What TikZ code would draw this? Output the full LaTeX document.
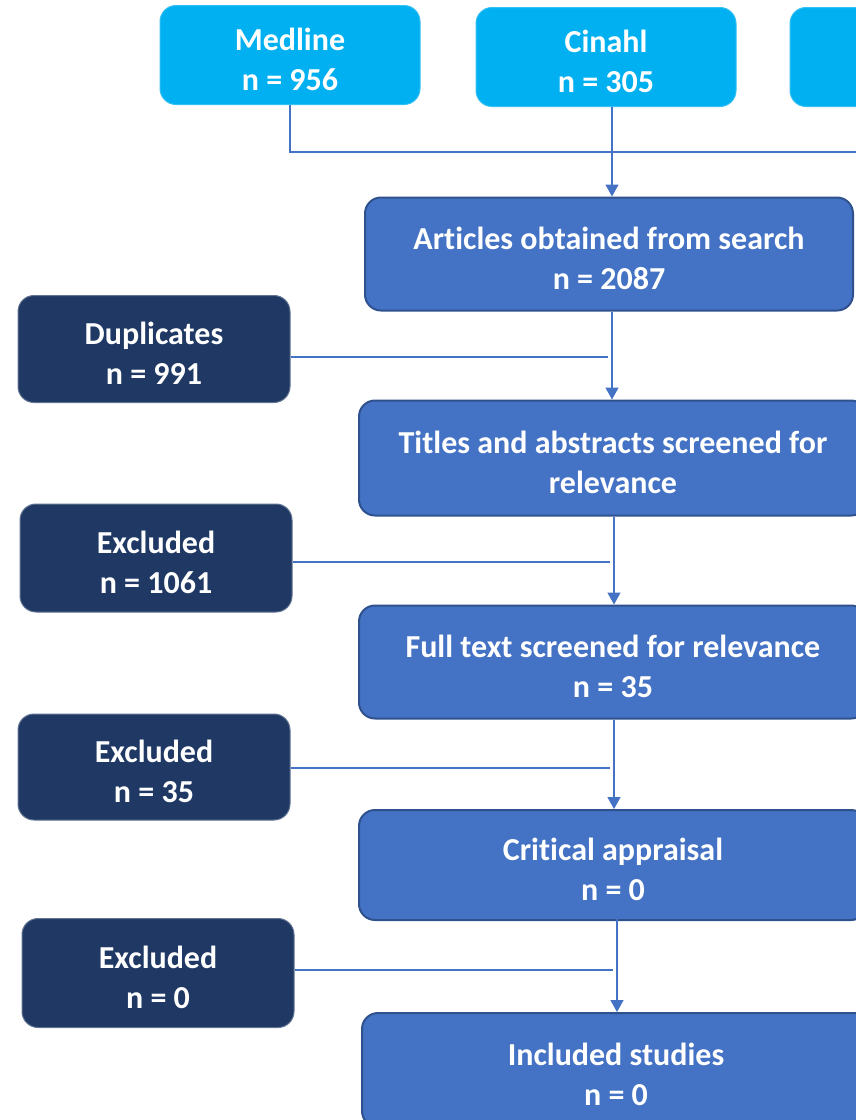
\documentclass[tikz,border=0pt]{standalone}
\usepackage{fontspec}
\setmainfont{Carlito}[Ligatures=NoCommon]
\usetikzlibrary{arrows.meta}
\definecolor{cyanbox}{HTML}{00B0F0}
\definecolor{midblue}{HTML}{4472C4}
\definecolor{midborder}{HTML}{2F528F}
\definecolor{navy}{HTML}{1F3864}
\definecolor{linecol}{HTML}{4472C4}
\tikzset{
  textstyle/.style={align=center, text=white, inner sep=0pt,
    font=\fontsize{32}{40}\selectfont\bfseries, yshift=-4pt},
  txt/.style={label={[textstyle]center:{#1}}},
  base/.style={rectangle, rounded corners=16pt, inner sep=0pt},
  srcbox/.style={base, fill=cyanbox, draw=cyanbox!80!white, line width=1pt,
    minimum width=260pt, minimum height=99pt},
  mainbox/.style={base, fill=midblue, draw=midborder, line width=2pt,
    minimum width=508pt, minimum height=112pt},
  sidebox/.style={base, fill=navy, draw=navy!70!white, line width=1pt,
    minimum width=272pt, minimum height=107pt},
  conn/.style={draw=linecol, line width=1.4pt},
  arr/.style={conn, -{Triangle[width=13pt,length=12pt]}, color=linecol},
}
\begin{document}
\begin{tikzpicture}[x=1pt,y=-1pt]
\useasboundingbox (0,0) rectangle (856,1120);
\clip (0,0) rectangle (856,1120);
\fill[white] (0,0) rectangle (856,1120);

% source boxes
\node[srcbox, txt={Medline\\n = 956}] (medline) at (290,55) {};
\node[srcbox, txt={Cinahl\\n = 305}] (cinahl) at (606,57) {};
\node[srcbox] (third) at (920,57) {};

% main column
\node[mainbox, minimum width=488pt, minimum height=113pt, txt={Articles obtained from search\\n = 2087}] (articles) at (609,254) {};
\node[mainbox, minimum height=115pt, txt={Titles and abstracts screened for\\relevance}] (titles) at (613,458) {};
\node[mainbox, minimum height=113pt, txt={Full text screened for relevance\\n = 35}] (full) at (613,662) {};
\node[mainbox, minimum height=110pt, txt={Critical appraisal\\n = 0}] (crit) at (613,865) {};
\node[mainbox, minimum height=114pt, txt={Included studies\\n = 0}] (incl) at (616,1070) {};

% side boxes
\node[sidebox, txt={Duplicates\\n = 991}] (dup) at (154,349) {};
\node[sidebox, minimum height=108pt, txt={Excluded\\n = 1061}] (ex1) at (156,558) {};
\node[sidebox, minimum height=106pt, txt={Excluded\\n = 35}] (ex2) at (154,767) {};
\node[sidebox, minimum height=109pt, txt={Excluded\\n = 0}] (ex3) at (158,973) {};

% junction coordinates
\coordinate (jtop) at (612,152);
\coordinate (c1) at (612,0);
\coordinate (c2) at (612,0);
\coordinate (c3) at (614,0);
\coordinate (c4) at (614,0);
\coordinate (c5) at (617,0);

% top connectors
\draw[conn] (medline.south) |- (jtop) -| (third.south);
\draw[arr] (c1 |- cinahl.south) -- (c1 |- articles.north);

% main flow arrows
\draw[arr] (c2 |- articles.south) -- (c2 |- titles.north);
\draw[arr] (c3 |- titles.south) -- (c3 |- full.north);
\draw[arr] (c4 |- full.south) -- (c4 |- crit.north);
\draw[arr] ([yshift=2pt]c5 |- crit.south) -- (c5 |- incl.north);

% side connectors
\draw[conn] (dup.east |- 0,357) -- (608,357);
\draw[conn] (ex1.east |- 0,562) -- (610,562);
\draw[conn] (ex2.east |- 0,768) -- (610,768);
\draw[conn] (ex3.east |- 0,970) -- (613,970);
\end{tikzpicture}
\end{document}
